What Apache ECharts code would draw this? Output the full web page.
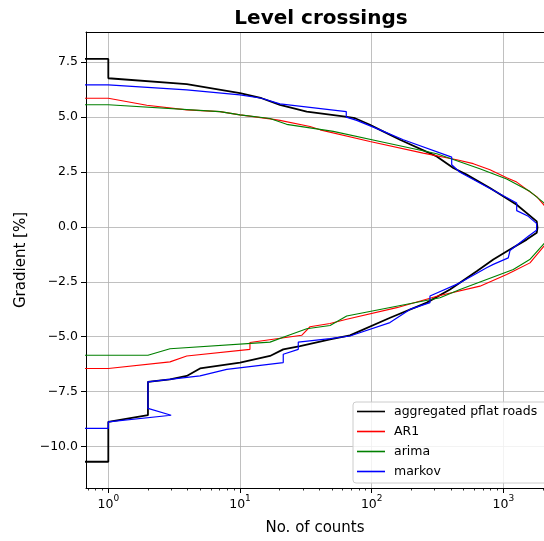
<!DOCTYPE html>
<html>
<head>
<meta charset="utf-8">
<script src="https://cdn.jsdelivr.net/npm/echarts@6/dist/echarts.min.js"></script>
<style>html,body{margin:0;padding:0;background:#fff}#c{width:544px;height:541px}</style>
</head>
<body>
<div id="c"></div>
<script>
// ---- data ----
const seriesNames = ['aggregated pflat roads', 'AR1', 'arima', 'markov'];
const aggX = [0.3, 1, 1, 3.94, 10, 14.6, 20.1, 32.1, 60.9, 74.7, 97, 115.6, 164, 312, 417, 526, 791, 1262, 1791, 1815, 1791, 1502, 1119, 838, 627, 393, 262, 138, 68.4, 48.3, 28.6, 21.3, 16.9, 10, 4.97, 3.94, 2.94, 2, 2, 1, 1, 0.3];
const aggY = [7.65, 7.65, 6.77, 6.5, 6.09, 5.86, 5.56, 5.25, 5.03, 4.95, 4.65, 4.42, 3.97, 3.21, 2.68, 2.38, 1.77, 1.01, 0.25, -0.03, -0.27, -0.58, -1.03, -1.49, -2.02, -2.85, -3.45, -4.14, -4.94, -5.12, -5.43, -5.58, -5.88, -6.18, -6.45, -6.79, -6.95, -7.06, -8.58, -8.88, -10.7, -10.7];
const ar1X = [0.3, 1, 1.96, 3.94, 7.05, 10, 16.9, 20.1, 34, 40.6, 97, 246, 442, 591, 791, 1059, 1262, 1502, 1791, 2034, 2259, 2339, 2300, 2200, 2034, 1592, 1189, 1059, 664, 318, 155, 64.6, 48.3, 34, 29.4, 11.9, 11.9, 3.94, 2.94, 1, 0.3];
const ar1Y = [5.86, 5.86, 5.54, 5.33, 5.25, 5.1, 4.92, 4.85, 4.57, 4.42, 3.89, 3.36, 3.06, 2.88, 2.6, 2.24, 2.04, 1.7, 1.38, 0.99, 0.56, 0.1, -0.35, -0.62, -0.88, -1.64, -2.02, -2.17, -2.7, -3.15, -3.68, -4.21, -4.4, -4.55, -4.94, -5.27, -5.58, -5.88, -6.15, -6.45, -6.45];
const arimaX = [0.3, 1, 7.05, 10, 16.9, 22.6, 51.1, 115.6, 312, 662, 1059, 1585, 2034, 2297, 2422, 2380, 2034, 1585, 1189, 664, 468, 330, 115.6, 64.6, 48.3, 32.1, 22.6, 16.9, 2.94, 2, 0.3];
const arimaY = [5.56, 5.56, 5.25, 5.1, 4.94, 4.67, 4.35, 3.89, 3.33, 2.65, 2.18, 1.62, 1.09, 0.56, 0.1, -0.35, -0.76, -1.49, -1.94, -2.51, -2.85, -3.23, -3.76, -4.06, -4.49, -4.64, -4.97, -5.25, -5.55, -5.85, -5.85];
const markovX = [0.3, 1, 3.94, 10, 14.6, 20.1, 64.1, 64.1, 76.9, 115.6, 173.8, 405, 405, 468, 1262, 1262, 1546, 1791, 1785, 1546, 1122, 1089, 838, 746, 468, 277, 277, 195, 137.6, 68.4, 48.3, 27.7, 27.7, 21.3, 21.3, 7.93, 4.97, 2, 2, 3, 1, 1, 0.3];
const markovY = [6.47, 6.47, 6.24, 6.01, 5.86, 5.6, 5.25, 5.0, 4.85, 4.42, 3.97, 3.18, 2.83, 2.49, 1.09, 0.74, 0.48, 0.15, -0.15, -0.43, -1.08, -1.41, -1.71, -1.86, -2.55, -3.15, -3.45, -3.76, -4.36, -4.97, -5.09, -5.25, -5.58, -5.8, -6.18, -6.49, -6.79, -7.06, -8.27, -8.58, -8.88, -9.18, -9.18];
const xTickValues = [1, 10, 100, 1000];
const xMinorTickValues = [0.7, 0.8, 0.9, 2, 3, 4, 5, 6, 7, 8, 9, 20, 30, 40, 50, 60, 70, 80, 90, 200, 300, 400, 500, 600, 700, 800, 900, 2000];
const yTickValues = [-10, -7.5, -5, -2.5, 0, 2.5, 5, 7.5];

const pairs = (xs, ys) => xs.map((x, i) => [x, ys[i]]);
const FONT = 'DejaVu Sans';
const X_MIN = 0.677, X_MAX = 2034, Y_MIN = -11.895, Y_MAX = 8.877;

const chart = echarts.init(document.getElementById('c'), null, {renderer: 'canvas'});
const lineSeries = (name, xs, ys, color, width) => ({
  name, type: 'line', data: pairs(xs, ys), showSymbol: false, symbol: 'none',
  clip: true, xAxisIndex: 0, yAxisIndex: 0,
  lineStyle: {color, width}, itemStyle: {color}, animation: false
});

chart.setOption({
  animation: false,
  backgroundColor: '#fff',
  title: {
    text: 'Level crossings', left: 316, top: 4, textAlign: 'center',
    textStyle: {fontFamily: FONT, fontSize: 20, fontWeight: 'bold', color: '#000'}
  },
  grid: {left: 86, top: 32, right: 0, height: 457, show: false, containLabel: false},
  legend: {
    orient: 'vertical', left: 353, top: 402,
    itemWidth: 28, itemHeight: 1.6, itemGap: 5, icon: 'rect',
    padding: [2, 10, 4, 4],
    backgroundColor: 'rgba(255,255,255,0.8)', borderColor: '#cccccc', borderWidth: 1, borderRadius: 3,
    textStyle: {fontFamily: FONT, fontSize: 12.5, color: '#000', lineHeight: 15, padding: [0, 0, 0, 4]},
    data: seriesNames
  },
  xAxis: [{
    type: 'log', logBase: 10, min: X_MIN, max: X_MAX, position: 'bottom',
    name: 'No. of counts', nameLocation: 'middle', nameGap: 33,
    nameTextStyle: {fontFamily: FONT, fontSize: 15, color: '#000'},
    axisLine: {show: true, onZero: false, lineStyle: {color: '#000', width: 1}},
    axisTick: {show: true, length: 5, customValues: xTickValues, lineStyle: {color: '#000', width: 1}},
    axisLabel: {
      customValues: xTickValues, margin: 6, color: '#000',
      formatter: v => '{b|10}{s|' + Math.round(Math.log10(v)) + '}',
      rich: {
        b: {fontFamily: FONT, fontSize: 12.5, color: '#000', lineHeight: 17, verticalAlign: 'bottom'},
        s: {fontFamily: FONT, fontSize: 9, color: '#000', lineHeight: 10, verticalAlign: 'top'}
      }
    },
    splitLine: {show: true, lineStyle: {color: '#b0b0b0', width: 0.8}}
  }, {
    type: 'log', logBase: 10, min: X_MIN, max: X_MAX, position: 'bottom', gridIndex: 0,
    axisLine: {show: false, onZero: false},
    axisTick: {show: true, length: 2.5, customValues: xMinorTickValues, lineStyle: {color: '#000', width: 0.8}},
    axisLabel: {show: false},
    splitLine: {show: false}
  }, {
    type: 'log', logBase: 10, min: X_MIN, max: X_MAX, position: 'top', gridIndex: 0,
    axisLine: {show: true, onZero: false, lineStyle: {color: '#000', width: 1}},
    axisTick: {show: false},
    axisLabel: {show: false},
    splitLine: {show: false}
  }],
  yAxis: {
    type: 'value', min: Y_MIN, max: Y_MAX,
    name: 'Gradient [%]', nameLocation: 'middle', nameGap: 54,
    nameTextStyle: {fontFamily: FONT, fontSize: 15, color: '#000'},
    axisLine: {show: true, onZero: false, lineStyle: {color: '#000', width: 1}},
    axisTick: {show: true, length: 5, customValues: yTickValues, lineStyle: {color: '#000', width: 1}},
    axisLabel: {
      customValues: yTickValues, margin: 8,
      fontFamily: FONT, fontSize: 12.5, color: '#000',
      formatter: v => v.toFixed(1).replace('-', '\u2212')
    },
    splitLine: {show: true, lineStyle: {color: '#b0b0b0', width: 0.8}}
  },
  series: [
    lineSeries(seriesNames[0], aggX, aggY, '#000000', 1.8),
    lineSeries(seriesNames[1], ar1X, ar1Y, '#ff0000', 1.1),
    lineSeries(seriesNames[2], arimaX, arimaY, '#008000', 1.1),
    lineSeries(seriesNames[3], markovX, markovY, '#0000ff', 1.2)
  ]
});
</script>
</body>
</html>
